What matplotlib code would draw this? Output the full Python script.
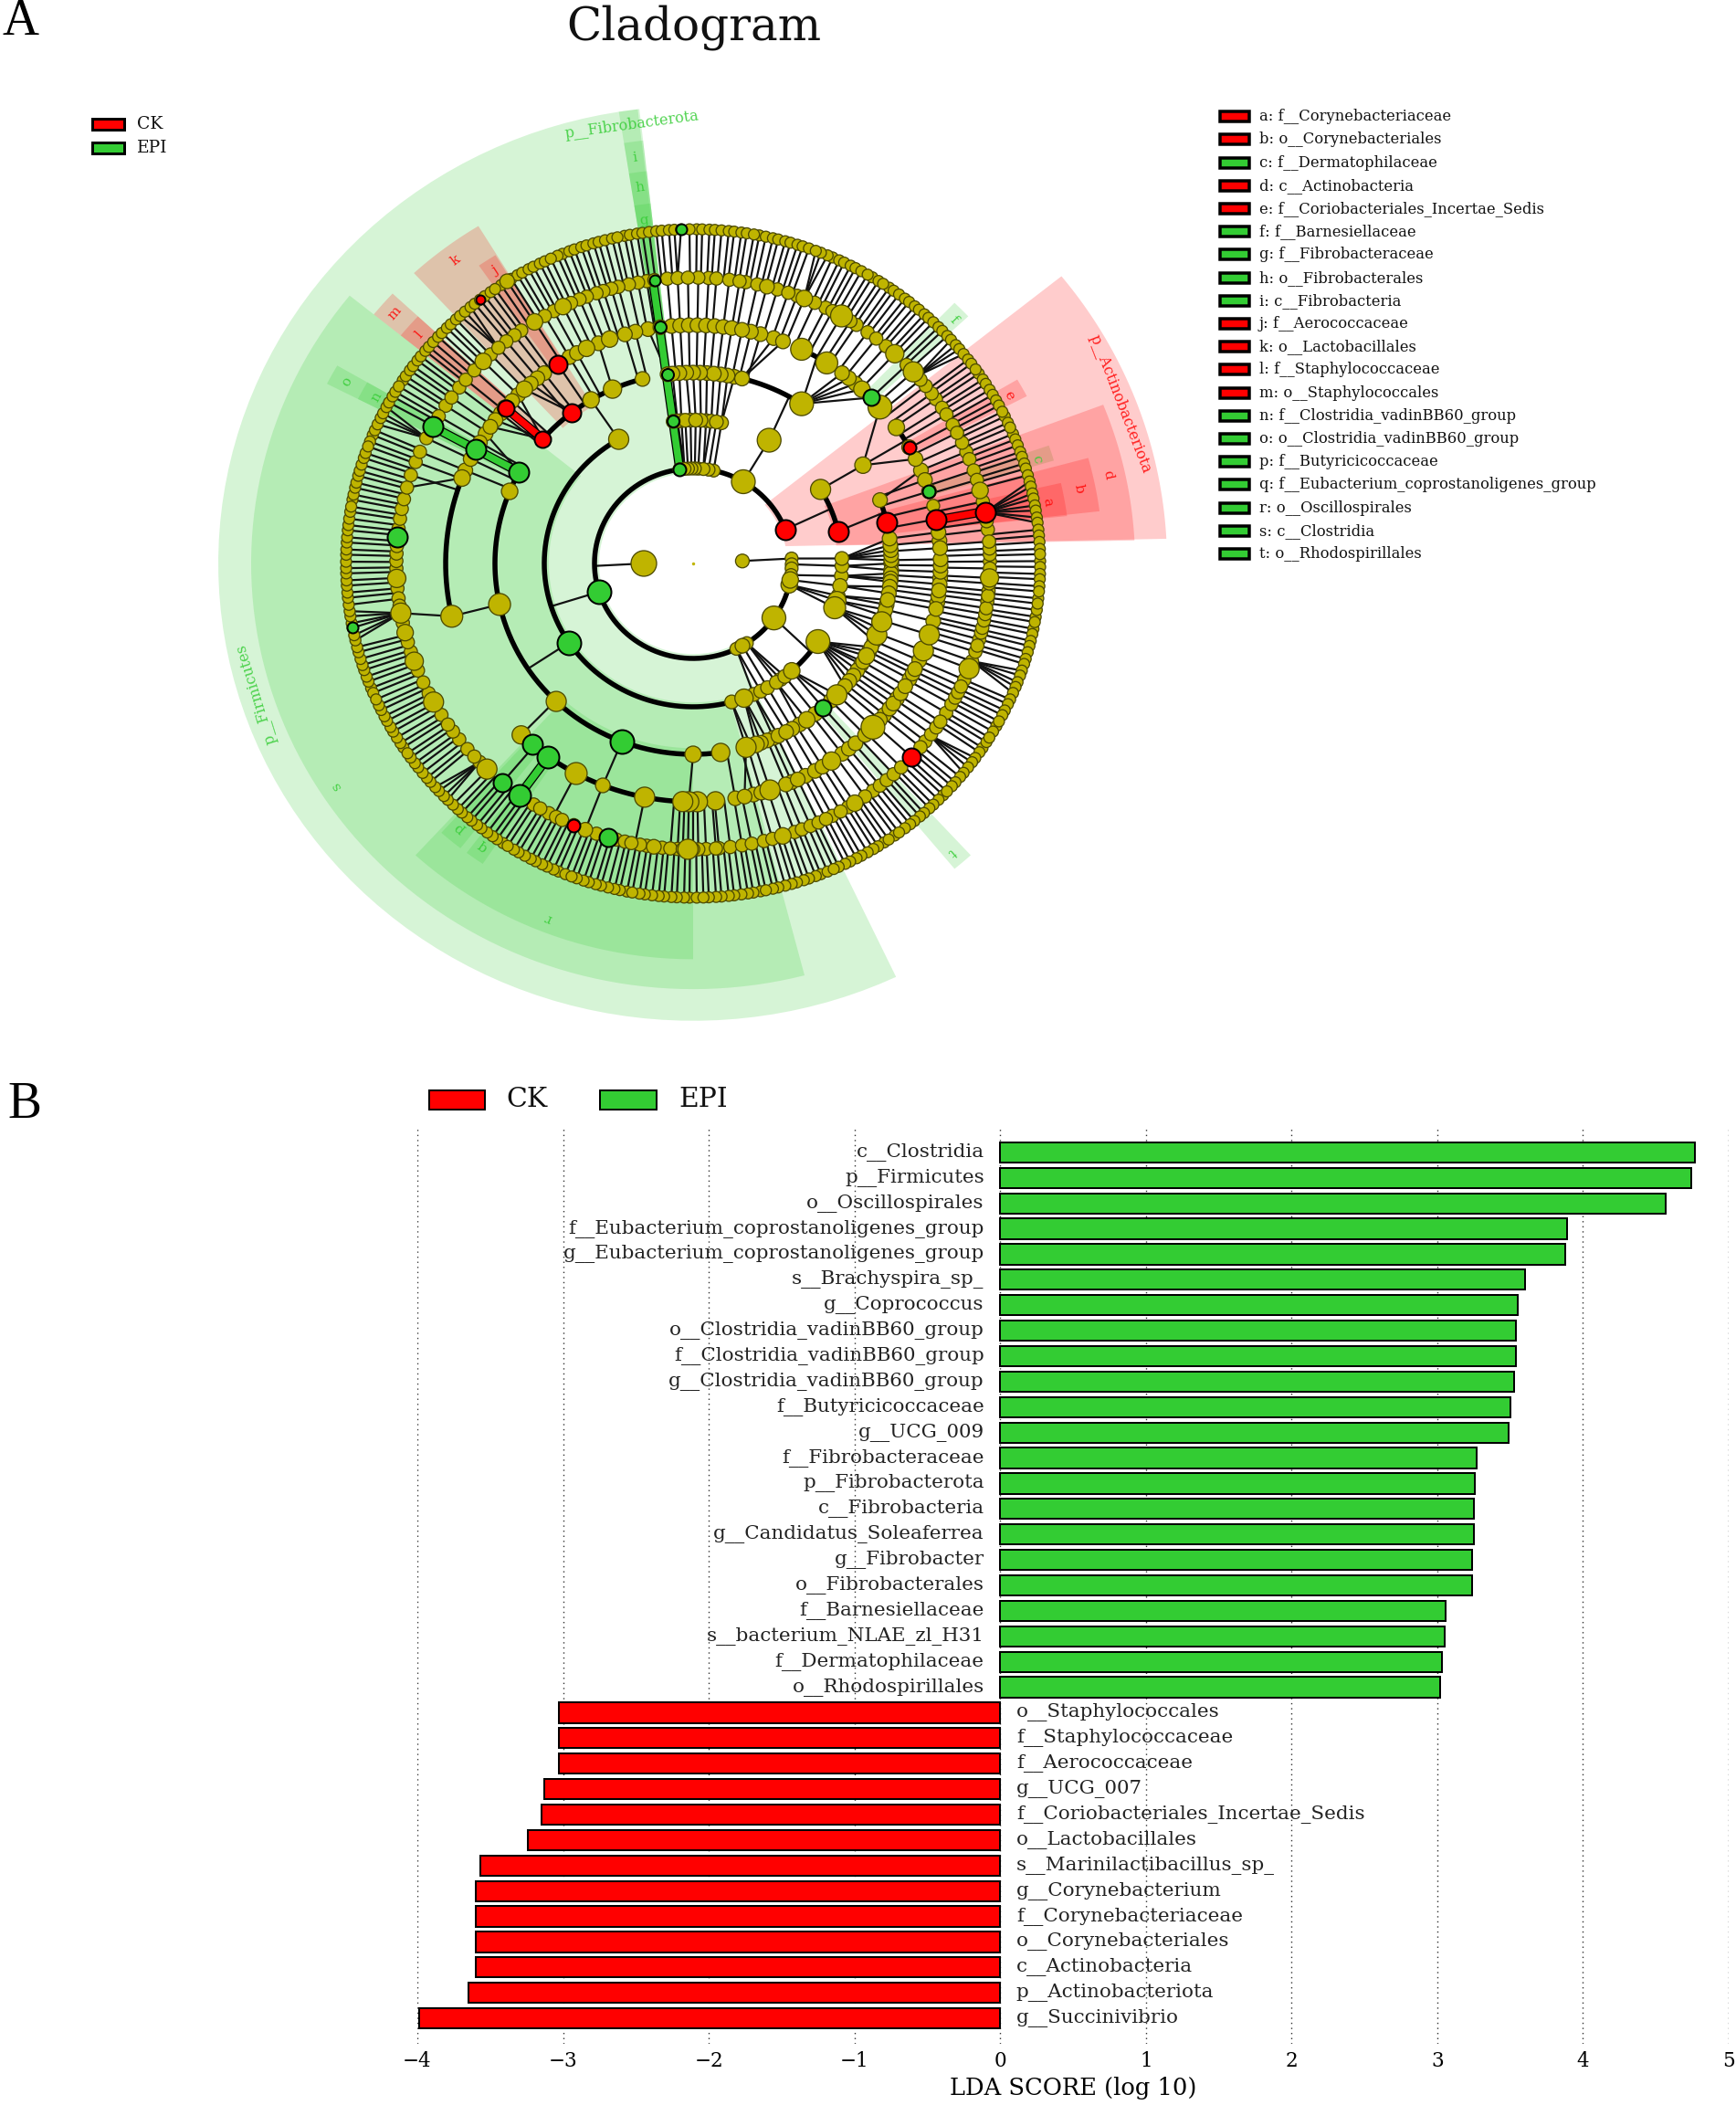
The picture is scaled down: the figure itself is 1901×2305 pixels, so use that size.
"""
LEfSe cladogram (A) and LDA score bars (B).
"""

import matplotlib

matplotlib.use("Agg")

import matplotlib.pyplot as plt
import numpy as np
from matplotlib.collections import LineCollection
from matplotlib.patches import Polygon, Rectangle

GREEN = "#33cc33"
RED = "#ff0000"
OLIVE = "#bfb400"

# --- panel B ---
EPI_TAXA = [
    "c__Clostridia", "p__Firmicutes", "o__Oscillospirales",
    "f__Eubacterium_coprostanoligenes_group", "g__Eubacterium_coprostanoligenes_group",
    "s__Brachyspira_sp_", "g__Coprococcus", "o__Clostridia_vadinBB60_group",
    "f__Clostridia_vadinBB60_group", "g__Clostridia_vadinBB60_group", "f__Butyricicoccaceae",
    "g__UCG_009", "f__Fibrobacteraceae", "p__Fibrobacterota", "c__Fibrobacteria",
    "g__Candidatus_Soleaferrea", "g__Fibrobacter", "o__Fibrobacterales", "f__Barnesiellaceae",
    "s__bacterium_NLAE_zl_H31", "f__Dermatophilaceae", "o__Rhodospirillales",
]
EPI_SCORES = [4.77, 4.74, 4.57, 3.89, 3.88, 3.60, 3.55, 3.54, 3.54, 3.53, 3.50,
              3.49, 3.27, 3.26, 3.25, 3.25, 3.24, 3.24, 3.06, 3.05, 3.03, 3.02]
CK_TAXA = [
    "o__Staphylococcales", "f__Staphylococcaceae", "f__Aerococcaceae", "g__UCG_007",
    "f__Coriobacteriales_Incertae_Sedis", "o__Lactobacillales", "s__Marinilactibacillus_sp_",
    "g__Corynebacterium", "f__Corynebacteriaceae", "o__Corynebacteriales", "c__Actinobacteria",
    "p__Actinobacteriota", "g__Succinivibrio",
]
CK_SCORES = [-3.03, -3.03, -3.03, -3.13, -3.15, -3.24, -3.57, -3.60, -3.60, -3.60, -3.60, -3.65, -3.99]
LDA_TICKS = [-4, -3, -2, -1, 0, 1, 2, 3, 4, 5]

# --- cladogram legend ---
CLADE_KEYS = [
    ("a: f__Corynebacteriaceae", RED), ("b: o__Corynebacteriales", RED),
    ("c: f__Dermatophilaceae", GREEN), ("d: c__Actinobacteria", RED),
    ("e: f__Coriobacteriales_Incertae_Sedis", RED), ("f: f__Barnesiellaceae", GREEN),
    ("g: f__Fibrobacteraceae", GREEN), ("h: o__Fibrobacterales", GREEN),
    ("i: c__Fibrobacteria", GREEN), ("j: f__Aerococcaceae", RED),
    ("k: o__Lactobacillales", RED), ("l: f__Staphylococcaceae", RED),
    ("m: o__Staphylococcales", RED), ("n: f__Clostridia_vadinBB60_group", GREEN),
    ("o: o__Clostridia_vadinBB60_group", GREEN), ("p: f__Butyricicoccaceae", GREEN),
    ("q: f__Eubacterium_coprostanoligenes_group", GREEN), ("r: o__Oscillospirales", GREEN),
    ("s: c__Clostridia", GREEN), ("t: o__Rhodospirillales", GREEN),
]

# --- cladogram tree: node angles in degrees, one list per taxonomic ring ---
RING_RADII = [0, 54, 108, 163, 217, 271, 325, 380]
L1 = [180, 3]
L2 = [3, 21, 59.4, 78, 81, 84, 87, 89, 91, 93, 95, 98, 197.4, 296, 298, 300, 303, 325, 347, 350, 353, 357, 359.5]
L3 = [-75, -70, -66, -63, -60, -56, -54, -52, -48.5, -33, -18, -15, -13, -9, -5, -1, 2, 13, 31.1, 59.3,
      79, 81, 83, 85, 87, 89, 91, 93, 94.5, 96, 97.7, 120, 213.5]
L4 = [-82, -74.5, -73, -71.5, -70, -68, -66, -64.5, -62, -60, -57.5, -55, -52, -49.1, -46, -43.5, -40, -38, -36, -34,
      -32, -31, -29, -27.5, -26, -24, -22, -20, -17.8, -16, -14, -12.5, -11, -9, -7, -5.5, -4.5, -3, -2, 0, 1, 2.5, 4,
      5.5, 7.5, 12.3, 19.4, 31, 56.8, 75.7, 78, 80, 82, 84, 86, 88, 90, 92, 94, 96, 97.4, 104.8, 114, 121,
      127.7, 139.3, 151.4, 157.8, 192.4, 226.3, 248.9, 270]
L5 = [-84.8, -80.2, -78, -75.9, -74, -71.9, -68, -66.5, -65, -63, -60.5, -58.5, -56, -53, -51, -49, -46, -43.4,
      -41, -39.4, -37.5, -36, -34.5, -33, -31, -29, -27.5, -26.3, -24, -21.5, -17.4, -14, -11, -9.5, -7.9, -6.5,
      -5, -3.5, -2, -0.5, 1, 3.7, 5.5, 7.5, 10.7, 14, 17.6, 20.5, 23, 26, 29.2, 34.8, 41, 44.1, 47, 49, 51, 53,
      57.3, 64, 68.7, 71, 74.2, 76.5, 78.6, 81, 83, 85, 87, 89, 91, 93, 95, 97.6, 100.5, 103.5, 106, 109.7, 112.5,
      115.5, 118, 120, 123.2, 127, 129, 131, 133, 135, 137, 139.3, 141, 143, 145, 147, 149.5, 151.5, 154, 157, 159,
      192.8, 226, 229.5, 234.2, 241.8, 248.6, 258.7, 267.6, 269, 271]
L6 = [-85, -82.8, -80.5, -78.6, -76.2, -74.5, -72.4, -70, -68.5, -66.7, -65, -63.4, -62, -60.2, -58.5, -57, -54.6,
      -52.7, -51, -49.3, -47.5, -45.5, -42.6, -40, -38.5, -36.7, -35, -33.6, -31.5, -29.5, -28, -26.8, -25.5, -24,
      -21.6, -20, -18, -16.7, -15.4, -14, -13, -11.5, -10.2, -9, -7.6, -6.5, -5.5, -4, -2.9, -1, 0.4, 1.8, 3, 4.4,
      6.8, 8.5, 10.3, 12.5, 14.8, 17, 19, 21.4, 23, 25, 27.2, 29, 31.4, 33, 35.1, 36.5, 38.4, 40, 42.1, 44, 47.2,
      49.5, 51.9, 54, 56.6, 58, 60, 62, 63.5, 65.8, 68, 69.5, 71.3, 73.5, 75.6, 77.5, 79.8, 81, 83, 85.5, 87, 89,
      91, 93, 95, 97.5, 99, 100.7, 102.5, 104.6, 106, 107.6, 109, 111, 112.5, 114.3, 116, 118, 120, 122.3, 125.4,
      127, 129, 131, 133, 135, 137.5, 140, 142, 144.5, 146.5, 149, 151.4, 154, 157, 159.2, 162, 164.6, 167, 169,
      171, 173, 174.7, 176.5, 178, 179.5, 181, 183, 185, 187, 188.5, 190, 192, 194, 196, 198, 200, 202, 204.6, 207,
      209, 212, 214.3, 216, 218, 220.5, 222.5, 224, 226, 230, 234.3, 237.5, 239, 240.9, 242.5, 243.8, 246.3, 248.7,
      251, 253.4, 255, 256.7, 258, 259.7, 261, 262.4, 264, 265.6, 267, 268, 269, 270, 271, 272.5, 274.4]
L7 = [0.4, 1.6, 2.5, 3.7, 4.8, 5.8, 7.0, 7.9, 9.1, 10.0, 11.2, 12.1, 13.3, 14.2, 15.3, 16.5, 17.4, 18.6, 19.5, 20.7,
      21.8, 22.8, 24.0, 24.9, 26.1, 27.0, 28.2, 29.2, 30.3, 31.3, 32.5, 33.4, 34.6, 35.5, 36.7, 37.6, 38.8, 39.9, 40.8,
      42.0, 42.9, 44.1, 45.0, 46.2, 47.3, 48.2, 49.4, 50.3, 51.5, 52.4, 53.6, 54.7, 55.6, 56.8, 57.7, 58.9, 59.8, 61.0,
      62.1, 63.0, 64.2, 65.1, 66.3, 67.2, 68.4, 69.3, 70.5, 71.6, 72.5, 73.7, 74.6, 75.8, 76.7, 77.9, 79.0, 79.9, 81.1,
      82.0, 83.2, 84.1, 85.3, 86.4, 87.3, 88.5, 89.4, 90.6, 92.0, 93.1, 94.0, 95.2, 96.1, 97.3, 98.4, 99.3, 100.5, 101.4,
      102.6, 103.5, 104.7, 105.8, 106.7, 107.9, 108.8, 110.0, 110.9, 112.1, 113.0, 114.2, 115.3, 116.2, 117.4, 118.3,
      119.5, 120.4, 121.6, 122.4, 123.6, 124.8, 125.7, 126.9, 127.9, 129.0, 129.9, 131.1, 132.2, 133.1, 134.3, 135.2,
      136.4, 137.3, 138.5, 139.6, 140.5, 141.7, 142.6, 143.8, 144.7, 145.9, 146.8, 148.0, 149.1, 150.0, 151.2, 152.1,
      153.3, 154.2, 155.4, 156.5, 157.4, 158.6, 159.5, 160.7, 161.6, 162.8, 163.9, 164.8, 166.0, 166.9, 168.1, 169.0,
      170.2, 171.1, 172.3, 173.4, 174.3, 175.5, 176.4, 177.6, 178.5, 179.7, 180.8, 181.7, 182.9, 183.8, 185.0, 185.9,
      187.1, 188.2, 189.1, 190.3, 191.1, 192.4, 193.3, 194.5, 195.4, 196.6, 197.7, 198.6, 199.8, 200.7, 201.9, 202.8,
      204.0, 205.1, 206.0, 207.2, 208.1, 209.3, 210.2, 211.4, 212.5, 213.4, 214.6, 215.5, 216.7, 217.6, 218.8, 219.9,
      220.8, 222.0, 222.9, 224.1, 225.0, 226.2, 227.3, 228.2, 229.4, 230.3, 231.5, 232.4, 233.6, 234.7, 235.6, 236.8,
      237.7, 238.9, 239.8, 241.0, 242.1, 243.0, 244.2, 245.1, 246.3, 247.2, 248.4, 249.5, 250.4, 251.6, 252.5, 253.7,
      254.6, 255.8, 256.9, 257.8, 259.0, 259.9, 261.1, 262.0, 263.2, 264.3, 265.2, 266.4, 267.3, 268.5, 269.4, 270.6,
      271.7, 272.6, 273.8, 274.7, 275.9, 276.8, 278.0, 279.1, 280.0, 281.2, 282.1, 283.3, 284.2, 285.4, 286.5, 287.4,
      288.6, 289.5, 290.7, 291.6, 292.8, 293.9, 294.8, 296.0, 296.9, 298.1, 299.0, 300.2, 301.3, 302.2, 303.4, 304.3,
      305.5, 306.4, 307.6, 308.7, 309.6, 310.8, 311.7, 312.9, 313.8, 315.0, 316.1, 317.0, 318.2, 319.1, 320.3, 321.2,
      322.4, 323.5, 324.4, 325.6, 326.5, 327.7, 328.6, 329.8, 330.9, 331.8, 333.0, 333.9, 335.1, 336.0, 337.2, 338.3,
      339.2, 340.4, 341.3, 342.5, 343.4, 344.6, 345.7, 346.6, 347.8, 348.7, 349.9, 350.8, 352.0, 353.1, 354.0, 355.2,
      356.1, 357.3, 358.2, 359.4]
RINGS = [[], L1, L2, L3, L4, L5, L6, L7]

# larger olive nodes: ring -> {angle: radius}
BIG_NODES = {
    1: {180: 14, 3: 7.5},
    2: {59.4: 13, 325: 13, 350: 9, 347: 9, 300: 8},
    3: {-70: 10, -48.5: 9, -33: 13, -18: 12, -15: 10, -9: 8, 31.1: 11, 59.3: 13, 120: 11},
    4: {192.4: 12, 226.3: 11, 270: 9, -82: 10, 157.8: 9, 121: 9, 114: 10, 104.8: 8, 56.8: 13, 75.7: 8, 19.4: 8,
        31: 9, -17.8: 11, -22: 11, -26: 8, -29: 9, -34: 8, -43.5: 11, -55: 9, -71.5: 9, -74.5: 11},
    5: {192.8: 12, 226: 10, 241.8: 12, 248.6: 8, 258.7: 11, 267.6: 11, 269: 11, 271: 11, -84.8: 10, 159: 9,
        115.5: 9, 109.7: 9, 127: 8, 120: 8, 64: 12, 57.3: 12, 41: 13, 34.8: 9, 20.5: 8, 14: 7, -71.9: 11, -56: 10,
        -43.4: 13, -21.5: 11, -17.4: 11, -68: 8, 46: 9, 140: 9, 134: 9},
    6: {226: 11, 248.7: 8, 262.4: 8, 269: 11, 122.3: 9, 68: 9, 60: 12, 47.2: 10, 42.1: 11, 14.8: 9, -2.9: 10,
        -21.6: 11, -57: 9, -72.4: 9, 190: 11, 194: 9, 200: 10, 209: 11, 183: 10, 75.6: 8, 135: 9, 116: 9},
    7: {122.4: 8},
}
GREEN_NODES = [(7, 92, 6), (6, 97.5, 6), (5, 97.6, 6.5), (4, 97.4, 6.5), (3, 97.7, 6.5), (2, 98, 7), (6, 151.4, 11),
               (5, 151.5, 11), (4, 151.4, 11), (6, 174.7, 11), (2, 197.4, 13), (3, 213.5, 13), (4, 248.9, 13),
               (5, 229.5, 11), (5, 234.2, 12), (6, 230, 10), (6, 234.3, 12), (6, 253.4, 10), (7, 191.1, 6),
               (4, 310.9, 9), (5, 44.1, 9), (5, 17.6, 7)]
RED_NODES = [(2, 21, 11), (3, 13, 11), (4, 12.3, 11), (5, 10.7, 11), (6, 10.3, 11), (5, 29.2, 7), (5, 123.2, 10),
             (5, 139.3, 9), (4, 127.7, 10), (4, 139.3, 9), (7, 127.9, 5), (6, 246.3, 7), (6, 317.4, 10)]

# sibling arcs: ring, first angle, last angle, parent angle on the ring inside, where the spoke lands
SIBLING_ARCS = [
    (2, 21, 360, 180, 181.5),
    (3, 13, 31.1, 21, 22.4), (3, 311.5, 327, 325, 322), (3, 120, 290, 197.4, 197.4),
    (4, 12.3, 19.4, 13, 15.5), (4, 56.8, 75.7, 59.3, 61), (4, 104.8, 139.3, 120, 121), (4, 151.4, 278, 213.5, 213.5),
    (5, 29.2, 34.8, 31, 31), (5, 57.3, 64, 56.8, 60), (5, 109.7, 115.5, 114, 112.5), (5, 159, 192.8, 192.4, 192.8),
    (5, 229.5, 258.7, 248.9, 248.6), (5, 258.7, 275.2, 270, 269),
    (6, 165, 226, 192.8, 190), (6, 237.5, 246.3, 241.8, 242), (6, 248.7, 256.7, 248.6, 248.7),
    (6, 256.7, 264, 258.7, 258.7),
]
# leaves sharing one genus node: parent angle on ring 6, first leaf, last leaf
LEAF_FANS = [(10.3, 7, 15), (41, 38.5, 42.5), (68, 67, 69.5), (93, 91, 93.5), (131, 129.5, 133), (154, 151.5, 156),
             (190, 187.5, 193.5), (224, 221.5, 226), (323, 320.5, 325), (340, 337, 341.5)]
# thick coloured branches: angle, inner ring, outer ring
GREEN_BRANCHES = [(97.8, 2, 6), (151.4, 4, 6), (234.2, 5, 6)]
RED_BRANCHES = [(139.3, 4, 5), (10.5, 5, 6)]

# clade shading: name, colour, inner r, outer r, low angle in/out, high angle in/out, label angle, label r, font size
CLADES = [
    ("p__Firmicutes", GREEN, 103, 520, 96.7, 96.7, 295.3, 295.3, 197.2, 501, 11.5),
    ("s", GREEN, 158, 484, 141, 141, 284.6, 284.6, 213, 466, 11),
    ("r", GREEN, 210, 450, 227.5, 227.5, 270, 270, 248.6, 433, 11),
    ("p__Fibrobacterota", GREEN, 103, 520, 96.5, 96.5, 99, 99, 97.7, 503, 11.5),
    ("i", GREEN, 158, 484, 96.5, 96.5, 99, 99, 97.8, 466, 11),
    ("h", GREEN, 210, 449, 96.5, 96.5, 99, 99, 97.8, 431, 11),
    ("g", GREEN, 265, 412, 96.5, 96.5, 99, 99, 97.8, 394, 11),
    ("k", RED, 210, 450, 121.5, 121.5, 132.8, 132.8, 127, 432, 11),
    ("j", RED, 265, 412, 121.7, 121.7, 124.7, 124.7, 123, 397, 11),
    ("m", RED, 210, 450, 137, 137, 141, 141, 139, 433, 11),
    ("l", RED, 265, 412, 137, 137, 141, 141, 139, 397, 11),
    ("o", GREEN, 210, 450, 150, 150, 153, 153, 151.4, 432, 11),
    ("n", GREEN, 265, 412, 150, 150, 153, 153, 151.4, 395, 11),
    ("p", GREEN, 265, 412, 228, 228, 231.8, 231.8, 229.6, 395, 11),
    ("q", GREEN, 265, 412, 233, 233, 236, 236, 234.4, 396, 11),
    ("t", GREEN, 210, 450, 309.5, 309.5, 312.5, 312.5, 310.8, 433, 11),
    ("f", GREEN, 265, 412, 43, 43, 46, 46, 44.2, 398, 11),
    ("e", RED, 265, 412, 27.5, 27.5, 30.5, 30.5, 28.9, 395, 11),
    ("c", GREEN, 265, 412, 16.5, 16.5, 19, 19, 17.5, 395, 11),
    ("p__Actinobacteriota", RED, 103, 519, 11, 3.1, 40.4, 39, 21.2, 502, 11.5),
    ("d", RED, 158, 484, 7.4, 3.1, 24.5, 21.9, 12.5, 465, 11),
    ("b", RED, 210, 449, 9, 7.6, 16, 15.5, 11.4, 431, 11),
    ("a", RED, 265, 413, 8.5, 7.5, 12.8, 12.8, 10.2, 394, 11),
]

WIDTH_PX, HEIGHT_PX = 1901, 2305
CENTER_X, CENTER_Y = 759, 617
Y_SQUASH = 0.963
# a spoke stays radial when a node of the inner ring lies this close (degrees)
RADIAL_TOLERANCE = {5: 3.0, 6: 3.0, 7: 2.5}


def px_to_pt(px):
    return px * 0.72


def polar(r, angle):
    rad = np.deg2rad(angle)
    return r * np.cos(rad), r * np.sin(rad)


def angle_gap(a, b):
    return abs((a - b + 180) % 360 - 180)


def nearest(angles, angle):
    diffs = [angle_gap(a, angle) for a in angles]
    return angles[int(np.argmin(diffs))]


def in_sibling_arc(ring, angle):
    wrapped = angle % 360
    return any(arc[0] == ring and arc[1] <= wrapped <= arc[2] for arc in SIBLING_ARCS)


def draw_clades(ax):
    for name, color, r0, r1, lo_in, lo_out, hi_in, hi_out, label_a, label_r, size in CLADES:
        outer = np.linspace(lo_out, hi_out, 90)
        inner = np.linspace(hi_in, lo_in, 90)
        xo, yo = polar(r1, outer)
        xi, yi = polar(r0, inner)
        points = np.column_stack([np.r_[xo, xi], np.r_[yo, yi]])
        ax.add_patch(Polygon(points, closed=True, fc=color, ec="none", alpha=0.2, zorder=1))
        x, y = polar(label_r, label_a)
        ax.text(x, y, name, color=color, alpha=0.85, fontsize=size, family="DejaVu Serif",
                rotation=label_a - 90, ha="center", va="center", zorder=6)


def spoke_start(ring, angle):
    """
    Angle on the inner ring where the spoke of a node begins.
    """

    if ring == 7:
        for fan_parent, first, last in LEAF_FANS:
            if first <= angle <= last:
                return fan_parent
    parent = nearest(RINGS[ring - 1], angle)
    if ring in RADIAL_TOLERANCE and angle_gap(parent, angle) <= RADIAL_TOLERANCE[ring]:
        return angle
    return parent


def draw_tree(ax):
    segments = []
    for ring in range(2, 8):
        for angle in RINGS[ring]:
            if ring < 7 and in_sibling_arc(ring, angle):
                continue
            start = spoke_start(ring, angle)
            segments.append([polar(RING_RADII[ring - 1], start), polar(RING_RADII[ring], angle)])
    for ring, _, _, parent, landing in SIBLING_ARCS:
        segments.append([polar(RING_RADII[ring - 1], parent), polar(RING_RADII[ring], landing)])
    ax.add_collection(LineCollection(segments, colors="#111111", linewidths=px_to_pt(2.2), zorder=2))

    for ring, first, last, _, _ in SIBLING_ARCS:
        thetas = np.linspace(first, last, 240)
        x, y = polar(RING_RADII[ring], thetas)
        ax.plot(x, y, color="black", lw=px_to_pt(5.5), solid_capstyle="round", zorder=3)

    for branches, color in ((GREEN_BRANCHES, GREEN), (RED_BRANCHES, RED)):
        for angle, inner, outer in branches:
            x, y = polar(np.array([RING_RADII[inner], RING_RADII[outer]]), angle)
            ax.plot(x, y, color="black", lw=px_to_pt(10), zorder=3)
            ax.plot(x, y, color=color, lw=px_to_pt(7.5), zorder=3)

    default_radius = {1: 7, 2: 7, 3: 7.5, 4: 8, 5: 8, 6: 7.2, 7: 6}
    for ring in range(7, 0, -1):
        angles = list(RINGS[ring])
        radii = [default_radius[ring]] * len(angles)
        for big_angle, big_radius in BIG_NODES.get(ring, {}).items():
            idx = angles.index(nearest(angles, big_angle))
            radii[idx] = big_radius
        order = np.argsort(radii)
        x, y = polar(RING_RADII[ring], np.array(angles)[order])
        sizes = (2 * px_to_pt(np.array(radii)[order])) ** 2
        ax.scatter(x, y, s=sizes, c=OLIVE, edgecolors="#4d4a00", linewidths=px_to_pt(1.3), zorder=4)

    for nodes, color in ((GREEN_NODES, GREEN), (RED_NODES, RED)):
        for ring, angle, radius in nodes:
            x, y = polar(RING_RADII[ring], angle)
            ax.scatter([x], [y], s=(2 * px_to_pt(radius)) ** 2, c=color, edgecolors="black",
                       linewidths=px_to_pt(2), zorder=5)
    ax.scatter([0], [0], s=6, c=OLIVE, linewidths=0, zorder=4)


def legend_box(fig, x0, y0, x1, y1, color, edge_px):
    rect = Rectangle((x0 / WIDTH_PX, 1 - y1 / HEIGHT_PX), (x1 - x0) / WIDTH_PX, (y1 - y0) / HEIGHT_PX,
                     transform=fig.transFigure, fc=color, ec="black", lw=px_to_pt(edge_px))
    fig.add_artist(rect)


def fig_text(fig, x, y, text, size, ha="left", family="DejaVu Serif", color="#111111"):
    fig.text(x / WIDTH_PX, 1 - y / HEIGHT_PX, text, fontsize=size, ha=ha, va="center",
             family=family, color=color)


def draw_legends(fig):
    for y, name, color in ((136, "CK", RED), (162, "EPI", GREEN)):
        legend_box(fig, 101, y - 6, 136, y + 6, color, 3)
        fig_text(fig, 150, y, name, 13.5)
    for i, (label, color) in enumerate(CLADE_KEYS):
        y = 127.7 + i * 25.2
        legend_box(fig, 1336, y - 5.5, 1368, y + 5.5, color, 3.5)
        fig_text(fig, 1379, y, label, 11.8)
    legend_box(fig, 470, 1194, 531, 1215, RED, 2)
    fig_text(fig, 554, 1204, "CK", 21.5)
    legend_box(fig, 657, 1194, 719, 1215, GREEN, 2)
    fig_text(fig, 743, 1204, "EPI", 21.5)
    fig_text(fig, 760, 30, "Cladogram", 36, ha="center")
    fig_text(fig, 22, 24, "A", 40, ha="center", family="Liberation Serif", color="black")
    fig_text(fig, 27, 1210, "B", 40, ha="center", family="Liberation Serif", color="black")


def draw_bars(fig):
    ax = fig.add_axes([457 / WIDTH_PX, 1 - 2238 / HEIGHT_PX, (1893 - 457) / WIDTH_PX, (2238 - 1234) / HEIGHT_PX])
    taxa = EPI_TAXA + CK_TAXA
    scores = EPI_SCORES + CK_SCORES
    positions = np.arange(len(taxa))[::-1]
    colors = [GREEN] * len(EPI_TAXA) + [RED] * len(CK_TAXA)
    ax.barh(positions, scores, height=0.8, color=colors, edgecolor="black", linewidth=px_to_pt(2), zorder=2)
    for y, name, score in zip(positions, taxa, scores):
        if score > 0:
            ax.text(-0.11, y, name, ha="right", va="center", fontsize=15.4, family="DejaVu Serif",
                    color="#222222", zorder=3)
        else:
            ax.text(0.11, y, name, ha="left", va="center", fontsize=15.4, family="DejaVu Serif",
                    color="#222222", zorder=3)
    ax.set_xlim(-4, 5)
    ax.set_ylim(-1, len(taxa))
    ax.set_yticks([])
    ax.set_xticks(LDA_TICKS)
    ax.set_xticklabels([str(t).replace("-", "\u2212") for t in LDA_TICKS], family="DejaVu Serif", fontsize=15.5)
    ax.tick_params(axis="x", length=0, pad=6)
    ax.grid(True, axis="x", color="#333333", linestyle=(0, (1, 3)), linewidth=1, zorder=0)
    ax.set_axisbelow(True)
    ax.set_xlabel("LDA SCORE (log 10)", family="DejaVu Serif", fontsize=18.5, labelpad=4)
    for spine in ax.spines.values():
        spine.set_visible(False)


def main():
    fig = plt.figure(figsize=(WIDTH_PX / 100, HEIGHT_PX / 100), dpi=100, facecolor="white")
    bottom_px = 1150
    ax = fig.add_axes([0, 1 - bottom_px / HEIGHT_PX, 1, bottom_px / HEIGHT_PX])
    ax.set_xlim(-CENTER_X, WIDTH_PX - CENTER_X)
    ax.set_ylim(-(bottom_px - CENTER_Y) / Y_SQUASH, CENTER_Y / Y_SQUASH)
    ax.axis("off")
    draw_clades(ax)
    draw_tree(ax)
    draw_legends(fig)
    draw_bars(fig)
    fig.savefig("out.png", dpi=100)
    plt.close(fig)


if __name__ == "__main__":
    main()
